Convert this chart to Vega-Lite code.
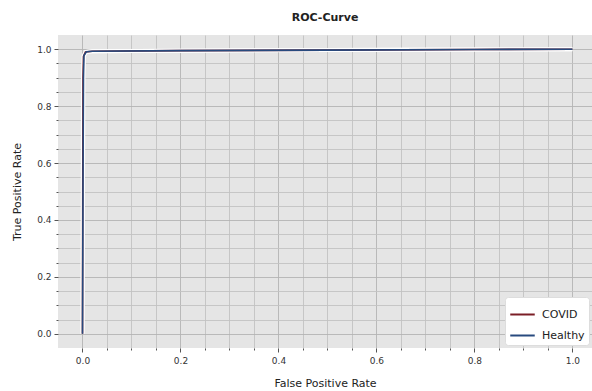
{
  "$schema": "https://vega.github.io/schema/vega-lite/v6.json",
  "width": 534,
  "height": 313,
  "autosize": {"type": "none"},
  "padding": {"left": 58, "top": 35, "right": 0, "bottom": 43},
  "background": "white",
  "title": {"text": "ROC-Curve", "font": "DejaVu Sans", "fontSize": 11, "fontWeight": "bold", "color": "#222222", "offset": 12, "anchor": "middle"},
  "config": {
    "view": {"fill": "#e5e5e5", "stroke": null},
    "axis": {"labelFont": "DejaVu Sans", "titleFont": "DejaVu Sans", "labelFontSize": 9, "titleFontSize": 11, "labelColor": "#333333", "titleColor": "#222222", "titleFontWeight": "normal", "domain": false, "tickColor": "#555555"}
  },
  "data": {"values": [
    {"fpr": 0.0, "tpr": 0.0, "cls": "COVID"},
    {"fpr": 0.0005, "tpr": 0.5, "cls": "COVID"},
    {"fpr": 0.001, "tpr": 0.9, "cls": "COVID"},
    {"fpr": 0.002, "tpr": 0.975, "cls": "COVID"},
    {"fpr": 0.006, "tpr": 0.99, "cls": "COVID"},
    {"fpr": 0.02, "tpr": 0.993, "cls": "COVID"},
    {"fpr": 0.2, "tpr": 0.995, "cls": "COVID"},
    {"fpr": 0.5, "tpr": 0.997, "cls": "COVID"},
    {"fpr": 0.8, "tpr": 0.999, "cls": "COVID"},
    {"fpr": 1.0, "tpr": 1.0, "cls": "COVID"},
    {"fpr": 0.0, "tpr": 0.0, "cls": "Healthy"},
    {"fpr": 0.001, "tpr": 0.5, "cls": "Healthy"},
    {"fpr": 0.002, "tpr": 0.9, "cls": "Healthy"},
    {"fpr": 0.003, "tpr": 0.978, "cls": "Healthy"},
    {"fpr": 0.008, "tpr": 0.991, "cls": "Healthy"},
    {"fpr": 0.02, "tpr": 0.993, "cls": "Healthy"},
    {"fpr": 0.2, "tpr": 0.995, "cls": "Healthy"},
    {"fpr": 0.5, "tpr": 0.997, "cls": "Healthy"},
    {"fpr": 0.8, "tpr": 0.999, "cls": "Healthy"},
    {"fpr": 1.0, "tpr": 1.0, "cls": "Healthy"}
  ]},
  "encoding": {
    "x": {"field": "fpr", "type": "quantitative", "scale": {"domain": [-0.05, 1.04], "nice": false, "zero": false},
      "axis": {"title": "False Positive Rate", "values": [0,0.05,0.1,0.15,0.2,0.25,0.3,0.35,0.4,0.45,0.5,0.55,0.6,0.65,0.7,0.75,0.8,0.85,0.9,0.95,1.0],
        "labelExpr": "abs(datum.value*5 - round(datum.value*5)) < 0.001 ? format(datum.value, '.1f') : ''",
        "tickSize": {"condition": {"test": "abs(datum.value*5 - round(datum.value*5)) < 0.001", "value": 4}, "value": 2},
        "gridColor": {"condition": {"test": "abs(datum.value*5 - round(datum.value*5)) < 0.001", "value": "#b3b3b3"}, "value": "#c2c2c2"},
        "gridWidth": 0.9, "labelPadding": 4, "titlePadding": 12, "labelFlush": false}},
    "y": {"field": "tpr", "type": "quantitative", "scale": {"domain": [-0.05, 1.05], "nice": false, "zero": false},
      "axis": {"title": "True Positive Rate", "values": [0,0.05,0.1,0.15,0.2,0.25,0.3,0.35,0.4,0.45,0.5,0.55,0.6,0.65,0.7,0.75,0.8,0.85,0.9,0.95,1.0],
        "labelExpr": "abs(datum.value*5 - round(datum.value*5)) < 0.001 ? format(datum.value, '.1f') : ''",
        "tickSize": {"condition": {"test": "abs(datum.value*5 - round(datum.value*5)) < 0.001", "value": 4}, "value": 2},
        "gridColor": {"condition": {"test": "abs(datum.value*5 - round(datum.value*5)) < 0.001", "value": "#b3b3b3"}, "value": "#c2c2c2"},
        "gridWidth": 0.9, "labelPadding": 3, "titlePadding": 14, "labelFlush": false}}
  },
  "layer": [
    {"mark": {"type": "line", "color": "white", "strokeWidth": 4, "interpolate": "linear"},
     "encoding": {"detail": {"field": "cls"}}},
    {"mark": {"type": "line", "strokeWidth": 1.6, "interpolate": "linear"},
     "encoding": {"color": {"field": "cls", "type": "nominal",
        "scale": {"domain": ["COVID", "Healthy"], "range": ["#7b1e26", "#284a7e"]},
        "legend": {"title": null, "orient": "bottom-right", "offset": 3, "fillColor": "white", "strokeColor": "#dddddd", "cornerRadius": 3, "padding": 4,
          "symbolType": "stroke", "symbolStrokeWidth": 2, "symbolSize": 600, "labelOffset": 6, "labelFont": "DejaVu Sans", "labelFontSize": 11, "labelColor": "#222222", "rowPadding": 2}}}}
  ]
}
